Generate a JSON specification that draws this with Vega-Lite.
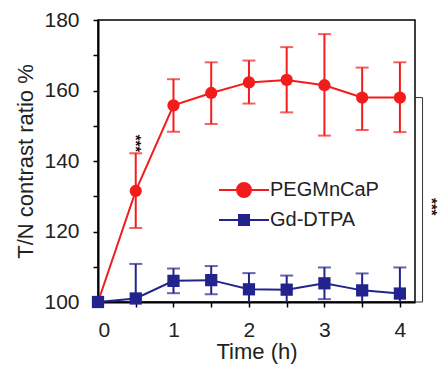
{
  "$schema": "https://vega.github.io/schema/vega-lite/v6.json",
  "width": 317,
  "height": 282,
  "autosize": "none",
  "padding": {"left": 98, "top": 20, "right": 25, "bottom": 64},
  "background": "white",
  "config": {
    "font": "Liberation Sans",
    "view": {"stroke": "black", "strokeWidth": 1.5},
    "axis": {
      "grid": false,
      "domainColor": "black",
      "domainWidth": 2,
      "tickColor": "black",
      "tickWidth": 1.5,
      "tickSize": 5,
      "labelFont": "Liberation Sans",
      "labelFontSize": 21,
      "labelColor": "#222",
      "titleFont": "Liberation Sans",
      "titleFontSize": 22,
      "titleFontWeight": "normal",
      "titleColor": "#222"
    }
  },
  "data": {
    "values": [
      {"series": "PEGMnCaP", "t": 0, "mean": 100, "lo": 100, "hi": 100},
      {"series": "PEGMnCaP", "t": 0.5, "mean": 131.5, "lo": 121, "hi": 142.2},
      {"series": "PEGMnCaP", "t": 1, "mean": 155.8, "lo": 148.3, "hi": 163.2},
      {"series": "PEGMnCaP", "t": 1.5, "mean": 159.3, "lo": 150.5, "hi": 168},
      {"series": "PEGMnCaP", "t": 2, "mean": 162.3, "lo": 156.3, "hi": 168.5},
      {"series": "PEGMnCaP", "t": 2.5, "mean": 163, "lo": 153.8, "hi": 172.3},
      {"series": "PEGMnCaP", "t": 3, "mean": 161.5, "lo": 147.2, "hi": 176},
      {"series": "PEGMnCaP", "t": 3.5, "mean": 158, "lo": 148.8, "hi": 166.5},
      {"series": "PEGMnCaP", "t": 4, "mean": 158, "lo": 148.2, "hi": 168},
      {"series": "Gd-DTPA", "t": 0, "mean": 100, "lo": 100, "hi": 100},
      {"series": "Gd-DTPA", "t": 0.5, "mean": 101, "lo": 91.2, "hi": 110.8},
      {"series": "Gd-DTPA", "t": 1, "mean": 106, "lo": 102.5, "hi": 109.5},
      {"series": "Gd-DTPA", "t": 1.5, "mean": 106.2, "lo": 102.2, "hi": 110.2},
      {"series": "Gd-DTPA", "t": 2, "mean": 103.6, "lo": 99, "hi": 108.2},
      {"series": "Gd-DTPA", "t": 2.5, "mean": 103.5, "lo": 99.5, "hi": 107.5},
      {"series": "Gd-DTPA", "t": 3, "mean": 105.3, "lo": 100.8, "hi": 109.8},
      {"series": "Gd-DTPA", "t": 3.5, "mean": 103.3, "lo": 98.5, "hi": 108.1},
      {"series": "Gd-DTPA", "t": 4, "mean": 102.4, "lo": 95, "hi": 109.8}
    ]
  },
  "encoding": {
    "x": {
      "field": "t", "type": "quantitative",
      "scale": {"domain": [0, 4.2], "nice": false, "zero": false},
      "axis": {
        "title": "Time (h)",
        "values": [0, 0.5, 1, 1.5, 2, 2.5, 3, 3.5, 4],
        "labelExpr": "datum.value % 1 === 0 ? format(datum.value, 'd') : ''",
        "labelPadding": 12,
        "titlePadding": 1
      }
    },
    "y": {
      "field": "mean", "type": "quantitative",
      "scale": {"domain": [100, 180], "nice": false, "zero": false},
      "axis": {
        "title": "T/N contrast ratio %",
        "values": [100, 110, 120, 130, 140, 150, 160, 170, 180],
        "labelExpr": "datum.value % 20 === 0 ? format(datum.value, 'd') : ''",
        "labelPadding": 14,
        "titlePadding": 6
      }
    },
    "color": {
      "field": "series", "type": "nominal",
      "scale": {"domain": ["PEGMnCaP", "Gd-DTPA"], "range": ["#f31c1c", "#23238d"]},
      "legend": {
        "title": null,
        "orient": "none",
        "legendX": 136,
        "legendY": 160,
        "labelFontSize": 20,
        "labelFont": "Liberation Sans",
        "labelColor": "#222",
        "labelOffset": 16,
        "rowPadding": 9,
        "symbolSize": 100,
        "symbolStrokeWidth": 2,
        "encode": {
          "symbols": {
            "update": {
              "shape": {"signal": "datum.value === 'PEGMnCaP' ? 'M-5,0H5M1.4,0A1.4,1.4 0 1,1 -1.4,0A1.4,1.4 0 1,1 1.4,0Z' : 'M-5,0H5M-1,-1H1V1H-1Z'"},
              "size": {"value": 100},
              "strokeWidth": {"value": 2},
              "stroke": {"signal": "datum.value === 'PEGMnCaP' ? '#f31c1c' : '#23238d'"},
              "fill": {"signal": "datum.value === 'PEGMnCaP' ? '#f31c1c' : '#23238d'"},
              "opacity": {"value": 1}
            }
          }
        }
      }
    }
  },
  "layer": [
    {
      "mark": {"type": "rule", "strokeWidth": 2, "clip": true},
      "encoding": {"y": {"field": "lo", "type": "quantitative"}, "y2": {"field": "hi"}}
    },
    {
      "mark": {"type": "tick", "orient": "horizontal", "size": 13, "thickness": 2, "clip": true},
      "encoding": {"y": {"field": "lo", "type": "quantitative"}}
    },
    {
      "mark": {"type": "tick", "orient": "horizontal", "size": 13, "thickness": 2, "clip": true},
      "encoding": {"y": {"field": "hi", "type": "quantitative"}}
    },
    {
      "mark": {"type": "line", "strokeWidth": 2},
      "encoding": {"detail": {"field": "series"}}
    },
    {
      "transform": [{"filter": "datum.series === 'PEGMnCaP'"}],
      "mark": {"type": "point", "shape": "circle", "filled": true, "opacity": 1, "size": 150}
    },
    {
      "transform": [{"filter": "datum.series === 'Gd-DTPA'"}],
      "mark": {"type": "point", "shape": "square", "filled": true, "opacity": 1, "size": 150}
    },
    {
      "data": {"values": [{"x": 0.5, "y": 145, "label": "***"}, {"x": 4.42, "y": 127, "label": "***"}]},
      "mark": {"type": "text", "angle": 90, "fontSize": 15, "fontWeight": "bold", "clip": false},
      "encoding": {
        "x": {"field": "x", "type": "quantitative"},
        "y": {"field": "y", "type": "quantitative"},
        "text": {"field": "label"},
        "color": {"value": "#111"}
      }
    },
    {
      "data": {"values": [
        {"x": 4.3, "x2": 4.3, "y": 100, "y2": 158},
        {"x": 4.2, "x2": 4.3, "y": 158, "y2": 158},
        {"x": 4.2, "x2": 4.3, "y": 100, "y2": 100}
      ]},
      "mark": {"type": "rule", "strokeWidth": 1, "clip": false},
      "encoding": {
        "x": {"field": "x", "type": "quantitative"},
        "x2": {"field": "x2"},
        "y": {"field": "y", "type": "quantitative"},
        "y2": {"field": "y2"},
        "color": {"value": "#333"}
      }
    }
  ]
}
